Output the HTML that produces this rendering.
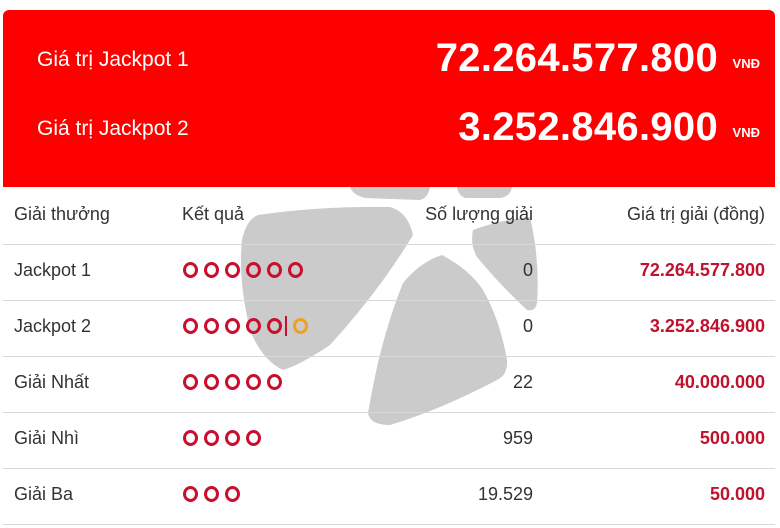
<!DOCTYPE html>
<html><head><meta charset="utf-8"><style>
body{margin:0;width:780px;height:528px;background:#fff;font-family:"Liberation Sans","DejaVu Sans",sans-serif;position:relative;overflow:hidden}
.box{position:absolute;left:3px;top:10px;width:772px;height:177px;background:#fe0000;border-radius:6px 6px 0 0}
.lab{position:absolute;left:37px;color:#fff;font-size:21px}
.big{position:absolute;right:62px;color:#fff;font-size:40px;font-weight:bold;letter-spacing:0.3px}
.vnd{position:absolute;right:20px;color:#fff;font-size:13px;font-weight:bold}
.t{position:absolute;font-size:18px;color:#333}
.r{text-align:right}
.line{position:absolute;left:3px;width:772px;height:1px;background:#d8d8d8}
.red{color:#c0112d;font-weight:bold}
.dots{position:absolute;left:183px;display:flex;gap:6px}
.dots i{display:block;width:9px;height:10px;border:3px solid #c8102e;border-radius:50%}
</style></head><body>
<svg style="position:absolute;left:0;top:0" width="780" height="528">
<g fill="#cbcbcb">
<path d="M258 215 Q320 206 390 207 Q408 212 413 235 Q380 290 330 345 Q300 365 283 370 Q262 360 250 330 Q238 280 242 240 Q246 220 258 215Z"/>
<path d="M442 255 Q470 270 483 290 Q500 320 507 360 Q508 375 497 380 Q440 410 390 425 Q370 425 368 413 Q372 390 377 367 Q388 320 403 283 Q420 262 442 255Z"/>
<path d="M473 230 Q500 220 530 217 Q540 260 537 303 Q535 312 527 310 Q500 285 477 257 Q470 245 473 230Z"/>
<path d="M350 187 L430 187 Q428 198 420 200 L365 198 Q353 195 350 187Z"/>
<path d="M457 187 L512 187 Q510 197 500 198 L465 198 Q458 195 457 187Z"/>
</g></svg>
<div class="box"></div>
<div class="lab" style="top:48px">Giá trị Jackpot 1</div>
<div class="lab" style="top:117px">Giá trị Jackpot 2</div>
<div class="big" style="top:36px">72.264.577.800</div><div class="vnd" style="top:56px">VNĐ</div>
<div class="big" style="top:105px">3.252.846.900</div><div class="vnd" style="top:125px">VNĐ</div>

<div class="t" style="left:14px;top:204px">Giải thưởng</div>
<div class="t" style="left:182px;top:204px">Kết quả</div>
<div class="t r" style="right:247px;top:204px">Số lượng giải</div>
<div class="t r" style="right:15px;top:204px">Giá trị giải (đồng)</div>
<div class="line" style="top:244px"></div>

<div class="t" style="left:14px;top:260px">Jackpot 1</div>
<div class="dots" style="top:262px"><i></i><i></i><i></i><i></i><i></i><i></i></div>
<div class="t r" style="right:247px;top:260px">0</div>
<div class="t r red" style="right:15px;top:260px">72.264.577.800</div>
<div class="line" style="top:300px"></div>

<div class="t" style="left:14px;top:316px">Jackpot 2</div>
<div class="dots" style="top:318px"><i></i><i></i><i></i><i></i><i></i></div>
<div style="position:absolute;left:285px;top:316px;width:2px;height:20px;background:#c8102e"></div>
<div style="position:absolute;left:293px;top:318px;width:9px;height:10px;border:3px solid #f0a020;border-radius:50%"></div>
<div class="t r" style="right:247px;top:316px">0</div>
<div class="t r red" style="right:15px;top:316px">3.252.846.900</div>
<div class="line" style="top:356px"></div>

<div class="t" style="left:14px;top:372px">Giải Nhất</div>
<div class="dots" style="top:374px"><i></i><i></i><i></i><i></i><i></i></div>
<div class="t r" style="right:247px;top:372px">22</div>
<div class="t r red" style="right:15px;top:372px">40.000.000</div>
<div class="line" style="top:412px"></div>

<div class="t" style="left:14px;top:428px">Giải Nhì</div>
<div class="dots" style="top:430px"><i></i><i></i><i></i><i></i></div>
<div class="t r" style="right:247px;top:428px">959</div>
<div class="t r red" style="right:15px;top:428px">500.000</div>
<div class="line" style="top:468px"></div>

<div class="t" style="left:14px;top:484px">Giải Ba</div>
<div class="dots" style="top:486px"><i></i><i></i><i></i></div>
<div class="t r" style="right:247px;top:484px">19.529</div>
<div class="t r red" style="right:15px;top:484px">50.000</div>
<div class="line" style="top:524px"></div>
</body></html>
